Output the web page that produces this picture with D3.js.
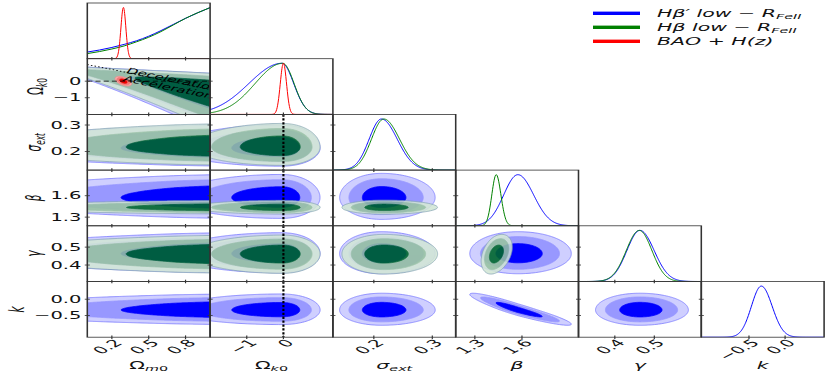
<!DOCTYPE html>
<html>
<head>
<meta charset="utf-8">
<script src="https://cdn.jsdelivr.net/npm/d3@7"></script>
<style>
  body { margin: 0; background: #fff; }
  text { font-family: "DejaVu Sans", sans-serif; }
</style>
</head>
<body>
<div id="chart"></div>
<script>
// ---- values ----
const paramNames = ["Ωm0", "Ωk0", "σext", "β", "γ", "k"];
const paramSymbols = ["Ω", "Ω", "σ", "β", "γ", "k"];
const paramSubs = ["m0", "k0", "ext", "", "", ""];
const paramDomains = [[0, 1], [-2, 1.35], [0.13, 0.34], [1.178, 1.96], [0.308, 0.619], [-1.16, 0.54]];
const paramTicks = [[0.2, 0.5, 0.8], [-1, 0], [0.2, 0.3], [1.3, 1.6], [0.4, 0.5], [-0.5, 0.0]];
const tickFormats = [".1f", "d", ".1f", ".1f", ".1f", ".1f"];

const seriesLabels = ["Hβ′ low − R", "Hβ low − R", "BAO + H(z)"];
const seriesLabelSubs = ["FeII", "FeII", ""];

// marginal summaries [mode, sd below, sd above]; null = not in that set
const blueStats  = [null, [-0.04, 0.9, 0.32], [0.213, 0.021, 0.027], [1.574, 0.09, 0.10], [0.4636, 0.033, 0.036], [-0.329, 0.137, 0.15]];
const greenStats = [null, [-0.02, 0.75, 0.31], [0.217, 0.021, 0.027], [1.436, 0.028, 0.03], [0.462, 0.033, 0.032], null];
const redStats   = [[0.294, 0.02, 0.02], [0.0, 0.085, 0.085], null, null, null, null];

// Omega_m0 posterior, runs into the prior edge at 1
const omGrid  = [0, 0.1, 0.2, 0.3, 0.4, 0.5, 0.6, 0.7, 0.8, 0.9, 1.0];
const blueOm  = [0.13, 0.17, 0.22, 0.28, 0.35, 0.44, 0.55, 0.67, 0.79, 0.9, 1.0];
const greenOm = [0.10, 0.14, 0.19, 0.25, 0.33, 0.42, 0.53, 0.66, 0.79, 0.9, 1.0];

// Omega_k0 given Omega_m0: mode a+b*m, sd above c+d*m, sd below e+f*m
const blueBand  = [0.55, -0.9, 0.13, 0.14, 0.2, 0.66];
const greenBand = [0.55, -0.9, 0.13, 0.14, 0.18, 0.6];

// correlations [row param, col param, rho]
const blueCorr  = [[5, 3, -0.93]];
const greenCorr = [[4, 3, 0.35]];
const redCorr   = [[1, 0, -0.5]];

const levelMasses = [0.997, 0.97, 0.70];
const decelLine = [1, -1.5];   // q0 = 0 : Ωk0 = 1 - 1.5 Ωm0
const flatOk = 0;

// ---- layout (figure is squashed, so draw in a stretched group) ----
const SX = 1.95, W = 831, H = 381;
const X0 = 87.3 / SX, PW = 122.8 / SX, Y0 = 3, PH = 55.7, N = paramNames.length;
const BOTTOM = Y0 + N * PH;

const svg = d3.select("#chart").append("svg").attr("width", W).attr("height", H);
const defs = svg.append("defs");
const g = svg.append("g").attr("transform", `scale(${SX},1)`);

const xS = paramDomains.map((d, j) => d3.scaleLinear().domain(d).range([X0 + j * PW, X0 + (j + 1) * PW]));
const yS = paramDomains.map((d, i) => d3.scaleLinear().domain(d).range([Y0 + (i + 1) * PH, Y0 + i * PH]));

const sets = [
  { stats: blueStats, om: blueOm, band: blueBand, corr: blueCorr },
  { stats: greenStats, om: greenOm, band: greenBand, corr: greenCorr },
  { stats: redStats, om: null, band: null, corr: redCorr }
];
sets.forEach(ds => { if (ds.om) ds.omF = d3.scaleLinear().domain(omGrid).range(ds.om).clamp(true); });

const lineColors = ["#0000ff", "#008000", "#ff0000"];
const fillColors = [["#cfcfff", "#9898ff", "#0000ff"], ["#d2e6d6", "#98c3a1", "#006a28"], ["#f7b0b0", "#f27a7a", "#ee0000"]];
const edgeColors = ["#7a7aff", "#7d9fae", "#f08a8a"];
const setOpacity = [1, 0.88, 1];

function zs(x, s) { return (x - s[0]) / (x < s[0] ? s[1] : s[2]); }
function has(ds, p) { return p === 0 ? (ds.om || ds.stats[0]) != null : ds.stats[p] != null; }
function rhoOf(ds, a, b) {
  const c = ds.corr.find(c => (c[0] === a && c[1] === b) || (c[0] === b && c[1] === a));
  return c ? c[2] : 0;
}
function dens1(ds, p, x) {
  if (p === 0 && ds.om) return ds.omF(x);
  const u = zs(x, ds.stats[p]);
  return Math.exp(-0.5 * u * u);
}
function dens2(ds, px, py, x, y) {
  if (px === 0 && ds.om) {
    const fm = ds.omF(x);
    if (py === 1) {
      const b = ds.band;
      const mode = b[0] + b[1] * x, su = b[2] + b[3] * x, sd = b[4] + b[5] * x;
      const v = (y - mode) / (y > mode ? su : sd);
      return fm * Math.exp(-0.5 * v * v);
    }
    return fm * dens1(ds, py, y);
  }
  const u = zs(x, ds.stats[px]), v = zs(y, ds.stats[py]), r = rhoOf(ds, px, py);
  return Math.exp(-(u * u - 2 * r * u * v + v * v) / (2 * (1 - r * r)));
}

function draw1D(pg, p) {
  const ys = d3.scaleLinear().domain([0, 1.09]).range([Y0 + (p + 1) * PH, Y0 + p * PH]);
  sets.forEach((ds, k) => {
    if (!has(ds, p)) return;
    let pts;
    if (p === 0 && ds.om) pts = omGrid.map((m, q) => [m, ds.om[q]]);
    else {
      const dom = paramDomains[p];
      pts = d3.range(241).map(t => { const x = dom[0] + t / 240 * (dom[1] - dom[0]); return [x, dens1(ds, p, x)]; });
    }
    const mx = d3.max(pts, d => d[1]);
    pg.append("path").datum(pts)
      .attr("fill", "none").attr("stroke", lineColors[k]).attr("stroke-width", 1)
      .attr("vector-effect", "non-scaling-stroke")
      .attr("d", d3.line().x(d => xS[p](d[0])).y(d => ys(d[1] / mx)).curve(d3.curveMonotoneX));
  });
}

function draw2D(pg, i, j) {
  sets.forEach((ds, k) => {
    if (!has(ds, i) || !has(ds, j)) return;
    const n = 120, dx = paramDomains[j], dy = paramDomains[i];
    const vx = c => dx[0] + c / (n - 1) * (dx[1] - dx[0]);
    const vy = r => dy[0] + r / (n - 1) * (dy[1] - dy[0]);
    const vals = new Array(n * n);
    for (let r = 0; r < n; r++) for (let c = 0; c < n; c++) vals[r * n + c] = dens2(ds, j, i, vx(c), vy(r));
    const sorted = vals.slice().sort((a, b) => b - a);
    const total = d3.sum(sorted);
    const th = levelMasses.map(m => {
      let cum = 0;
      for (const v of sorted) { cum += v; if (cum >= m * total) return v; }
      return sorted[sorted.length - 1];
    });
    const cs = d3.contours().size([n, n]).thresholds(th)(vals);
    const proj = d3.geoTransform({ point(gx, gy) { this.stream.point(xS[j](vx(gx - 0.5)), yS[i](vy(gy - 0.5))); } });
    const path = d3.geoPath(proj);
    pg.append("g").attr("opacity", setOpacity[k])
      .selectAll("path").data(cs).join("path")
      .attr("d", path)
      .attr("fill", (d, l) => fillColors[k][l])
      .attr("stroke", (d, l) => l === 0 ? edgeColors[k] : fillColors[k][l])
      .attr("stroke-width", 0.8).attr("vector-effect", "non-scaling-stroke");
  });

  // reference lines
  if (j === 1) {
    pg.append("line")
      .attr("x1", xS[1](flatOk)).attr("x2", xS[1](flatOk))
      .attr("y1", Y0 + i * PH).attr("y2", Y0 + (i + 1) * PH)
      .attr("stroke", "#000").attr("stroke-width", 1.1).attr("stroke-dasharray", "2.3,1.6");
  }
  if (i === 1 && j === 0) {
    const lineK = m => decelLine[0] + decelLine[1] * m;
    pg.append("line")
      .attr("x1", xS[0](0)).attr("x2", xS[0](1))
      .attr("y1", yS[1](flatOk)).attr("y2", yS[1](flatOk))
      .attr("stroke", "#000").attr("stroke-width", 0.7).attr("stroke-dasharray", "2.6,1.6");
    pg.append("line")
      .attr("x1", xS[0](0)).attr("x2", xS[0](1))
      .attr("y1", yS[1](lineK(0))).attr("y2", yS[1](lineK(1)))
      .attr("stroke", "#000").attr("stroke-width", 0.8).attr("stroke-dasharray", "0.8,1.2");
    const ang = Math.atan2(yS[1](lineK(1)) - yS[1](lineK(0)), xS[0](1) - xS[0](0)) * 180 / Math.PI;
    const rad = ang * Math.PI / 180;
    const put = (m, off, txt) => {
      const px = xS[0](m) - off * Math.sin(rad), py = yS[1](lineK(m)) + off * Math.cos(rad);
      pg.append("text").attr("transform", `translate(${px},${py}) rotate(${ang})`)
        .attr("font-size", 8).attr("fill", "#000").text(txt);
    };
    put(0.31, 0.5, "Deceleration");
    put(0.33, 8.5, "Acceleration");
  }
}

for (let i = 0; i < N; i++) {
  for (let j = 0; j <= i; j++) {
    const id = `clip-${i}-${j}`;
    defs.append("clipPath").attr("id", id).append("rect")
      .attr("x", X0 + j * PW).attr("y", Y0 + i * PH).attr("width", PW).attr("height", PH);
    const pg = g.append("g").attr("clip-path", `url(#${id})`);
    if (i === j) draw1D(pg, i); else draw2D(pg, i, j);
  }
}

// ---- frames and ticks ----
const frame = g.append("g");
for (let i = 0; i < N; i++) {
  for (let j = 0; j <= i; j++) {
    const x = X0 + j * PW, y = Y0 + i * PH;
    frame.append("rect").attr("x", x).attr("y", y).attr("width", PW).attr("height", PH)
      .attr("fill", "none").attr("stroke", "#333").attr("stroke-width", 0.8);
    paramTicks[j].forEach(t => {
      frame.append("line").attr("x1", xS[j](t)).attr("x2", xS[j](t))
        .attr("y1", y + PH - 1.8).attr("y2", y + PH + 1.8).attr("stroke", "#333").attr("stroke-width", 0.6);
    });
    if (i > 0) paramTicks[i].forEach(t => {
      frame.append("line").attr("x1", x - 1.3).attr("x2", x + 1.3)
        .attr("y1", yS[i](t)).attr("y2", yS[i](t)).attr("stroke", "#333").attr("stroke-width", 0.8);
    });
  }
}

function addLabel(sel, i) {
  sel.append("tspan").attr("font-style", i < 2 ? "normal" : "italic").text(paramSymbols[i]);
  if (paramSubs[i]) {
    const sub = sel.append("tspan").attr("font-size", "70%").attr("dy", "0.3em");
    paramSubs[i].split("").forEach(ch => {
      sub.append("tspan").attr("font-style", /[0-9]/.test(ch) ? "normal" : "italic").text(ch);
    });
  }
}

// y tick labels and titles
for (let i = 1; i < N; i++) {
  const fmt = d3.format(tickFormats[i]);
  const lab = g.append("g").selectAll("text").data(paramTicks[i]).join("text")
    .attr("x", X0 - 3).attr("y", d => yS[i](d)).attr("dy", "0.36em")
    .attr("text-anchor", "end").attr("font-size", 10).attr("fill", "#111")
    .text(d => fmt(d));
  const wMax = d3.max(lab.nodes(), n => n.getComputedTextLength());
  const xb = X0 - 3 - wMax - 5;
  const t = g.append("text").attr("transform", `translate(${xb},${Y0 + (i + 0.5) * PH}) rotate(-90)`)
    .attr("text-anchor", "middle").attr("font-size", 10.5).attr("fill", "#111");
  addLabel(t, i);
}

// x tick labels and titles
for (let j = 0; j < N; j++) {
  const fmt = d3.format(tickFormats[j]);
  g.append("g").selectAll("text").data(paramTicks[j]).join("text")
    .attr("transform", d => `translate(${xS[j](d) + 5.8},${BOTTOM + 6.3}) rotate(-45)`)
    .attr("text-anchor", "end").attr("font-size", 10).attr("fill", "#111")
    .text(d => fmt(d));
  const t = g.append("text").attr("x", X0 + (j + 0.5) * PW).attr("y", 369)
    .attr("text-anchor", "middle").attr("font-size", 10.5).attr("fill", "#111");
  addLabel(t, j);
}

// ---- legend ----
const legend = g.append("g");
seriesLabels.forEach((s, k) => {
  const yb = 16.8 + k * 14;
  legend.append("rect").attr("x", 593 / SX).attr("y", yb - 5.2).attr("width", 47 / SX).attr("height", 3.4)
    .attr("fill", lineColors[k]);
  const t = legend.append("text").attr("x", 657 / SX).attr("y", yb)
    .attr("font-size", 10.5).attr("font-style", "italic").attr("fill", "#111");
  t.append("tspan").text(s);
  if (seriesLabelSubs[k]) t.append("tspan").attr("font-size", "70%").attr("dy", "0.3em").text(seriesLabelSubs[k]);
});
</script>
</body>
</html>
